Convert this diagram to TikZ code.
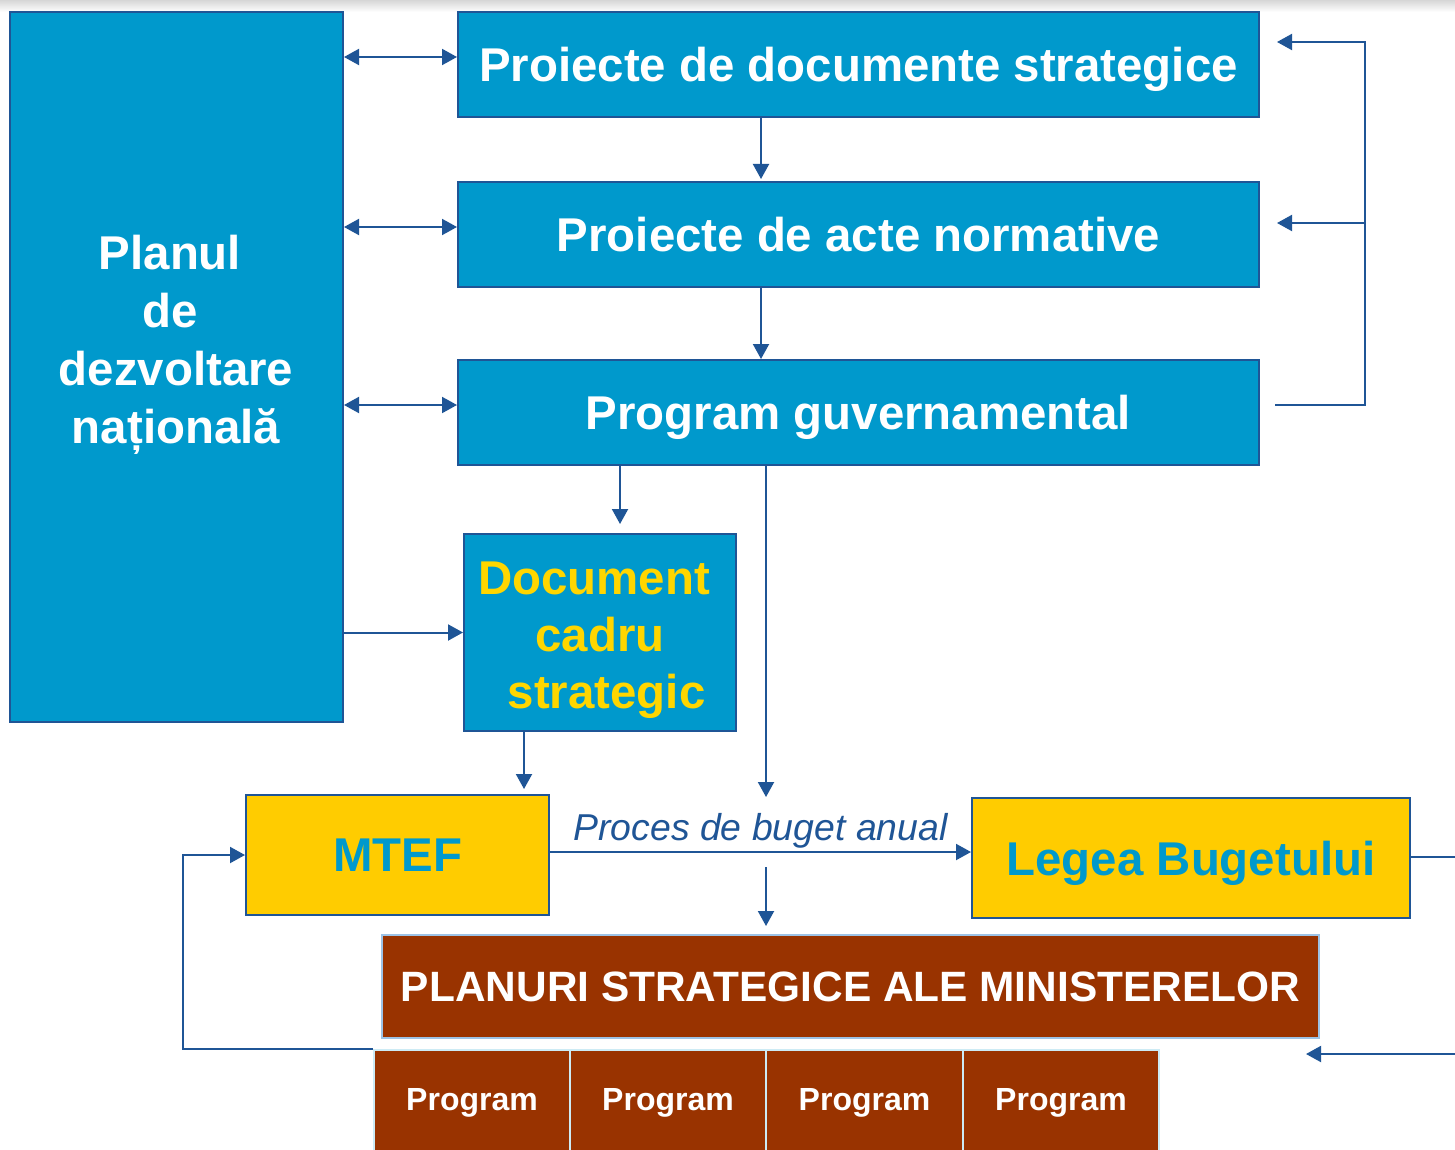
\documentclass[tikz,border=0pt]{standalone}
\usepackage{fontspec}
\setmainfont{Liberation Sans}
\usepackage{xcolor}
\usepackage{tikz}
\usetikzlibrary{arrows.meta}
\usetikzlibrary{positioning, backgrounds}

\definecolor{pbleu}{RGB}{0,153,204}
\definecolor{pmarin}{RGB}{31,85,150}
\definecolor{pgalben}{RGB}{255,204,0}
\definecolor{ptext}{RGB}{255,214,0}
\definecolor{pmaro}{RGB}{153,51,0}
\definecolor{pcer}{RGB}{157,195,230}
\definecolor{pcyan}{RGB}{205,235,245}

\begin{document}
\begin{tikzpicture}[x=0.5pt, y=-0.5pt,
    bloc/.style={draw=pmarin, line width=1pt, fill=pbleu, text=white, inner sep=0pt, text depth=0pt,
                 font=\fontsize{23.7}{29}\selectfont\bfseries, align=center},
    galben/.style={draw=pmarin, line width=1pt, fill=pgalben, text=pbleu, inner sep=0pt, text depth=0pt,
                   font=\fontsize{23.7}{29}\selectfont\bfseries, align=center},
    maro/.style={draw=pcer, line width=1pt, fill=pmaro, text=white, inner sep=0pt,
                 font=\fontsize{21.2}{26}\selectfont\bfseries},
    progbox/.style={draw=pcyan, line width=0.6pt, fill=pmaro, text=white, inner sep=0pt,
                    minimum width=98pt, minimum height=53pt,
                    font=\fontsize{16}{19}\selectfont\bfseries},
    scris/.style={font=\fontsize{23.7}{29}\selectfont\bfseries, align=center, inner sep=0pt}]

\useasboundingbox (0,0) rectangle (1455,1150);
\clip (0,0) rectangle (1455,1150);
\fill[white] (0,0) rectangle (1455,1150);
\shade[top color=black!16, bottom color=white] (0,0) rectangle (1455,12);

\begin{scope}
    \node[bloc, minimum width=166.5pt, minimum height=355pt] (pnd) at (176.5,367) {};
    \node[scris, text=white] (pndtext) at (176,345)
        {Planul\kern6pt\\de\kern6pt\\dezvoltare\\națională};
    \node[bloc, minimum width=400.5pt, minimum height=52.5pt] (box1) at (858.5,64.5)
        {Proiecte de documente strategice};
    \node[bloc, minimum width=400.5pt, minimum height=52.5pt] (box2) at (858.5,234.5)
        {Proiecte de acte normative};
    \node[bloc, minimum width=400.5pt, minimum height=52.5pt] (box3) at (858.5,412.5)
        {Program guvernamental};
    \node[bloc, minimum width=136pt, minimum height=98.5pt] (dcs) at (600,632.5) {};
    \node[scris, text=ptext, font=\fontsize{23.7}{28.5}\selectfont\bfseries] (dcstext) at (600,640)
        {Document\kern6pt\\cadru\\~strategic};
    \node[galben, minimum width=151.5pt, minimum height=60pt] (mtef) at (397.5,855) {MTEF};
    \node[galben, minimum width=219pt, minimum height=60pt] (lege) at (1191,858) {Legea Bugetului};
    \node[maro, minimum width=468.5pt, minimum height=51.5pt] (planuri) at (850.5,986.5)
        {PLANURI STRATEGICE ALE MINISTERELOR};
    \foreach \i/\x in {1/472, 2/668, 3/864.5, 4/1061}
        \node[progbox] (prog\i) at (\x,1103) {Program};
\end{scope}

\coordinate (axa) at (761,0);
\coordinate (axd) at (620,0);
\coordinate (axm) at (524,0);
\coordinate (buget) at (766,797);
\coordinate (bugetb) at (766,867);
\coordinate (dreapta) at (1365,0);
\coordinate (stanga) at (183,0);
\coordinate (iesire) at (1455,857);
\coordinate (intrare) at (1455,1054);

\begin{scope}[>={Triangle[length=7.5pt, width=8pt]},
              every edge/.style={draw=pmarin, line width=1pt}]
    \path [<->] ([yshift=3.75pt]pnd.east |- box1.west) edge ([yshift=3.75pt]box1.west);
    \path [<->] ([yshift=3.75pt]pnd.east |- box2.west) edge ([yshift=3.75pt]box2.west);
    \path [<->] ([yshift=3.75pt]pnd.east |- box3.west) edge ([yshift=3.75pt]box3.west);
    \path [->] (pnd.east |- dcs.west) edge (dcs.west);
\end{scope}

\begin{scope}[>={Triangle[length=7.5pt, width=8pt]},
              every edge/.style={draw=pmarin, line width=1pt}]
    \path [->] (box1.south -| axa) edge ([yshift=1pt]box2.north -| axa);
    \path [->] (box2.south -| axa) edge (box3.north -| axa);
    \path [->] (box3.south -| axd) edge [shorten >=4.5pt] (dcs.north -| axd);
    \path [->] (box3.south -| buget) edge (buget);
    \path [->] (dcs.south -| axm) edge [shorten >=2.5pt] (mtef.north -| axm);
    \path [->] ([yshift=1.5pt]mtef.east) edge node [pmarin, above, inner sep=1.5pt,
          font=\fontsize{18.7}{22}\selectfont\itshape] {Proces de buget anual}
          ([yshift=1.5pt]mtef.east -| lege.west);
    \path [->] (bugetb) edge [shorten >=4pt] (planuri.north -| bugetb);
    \path [-] (lege.east |- iesire) edge (iesire);
    \path [->] (intrare) edge ([xshift=-7pt]planuri.east |- intrare);
\end{scope}

\begin{scope}[>={Triangle[length=7.5pt, width=8pt]}, draw=pmarin, line width=1pt]
    \draw [->] ([xshift=7.5pt, yshift=3.75pt]box3.east) -| ([yshift=11.25pt]dreapta |- box1.east)
        -- ([xshift=8.5pt, yshift=11.25pt]box1.east);
    \draw [->] ([yshift=5.75pt]dreapta |- box2.east) -- ([xshift=8.5pt, yshift=5.75pt]box2.east);
    \draw [->] (prog1.north west) -| (stanga |- mtef.west) -- (mtef.west);
\end{scope}

\end{tikzpicture}
\end{document}
